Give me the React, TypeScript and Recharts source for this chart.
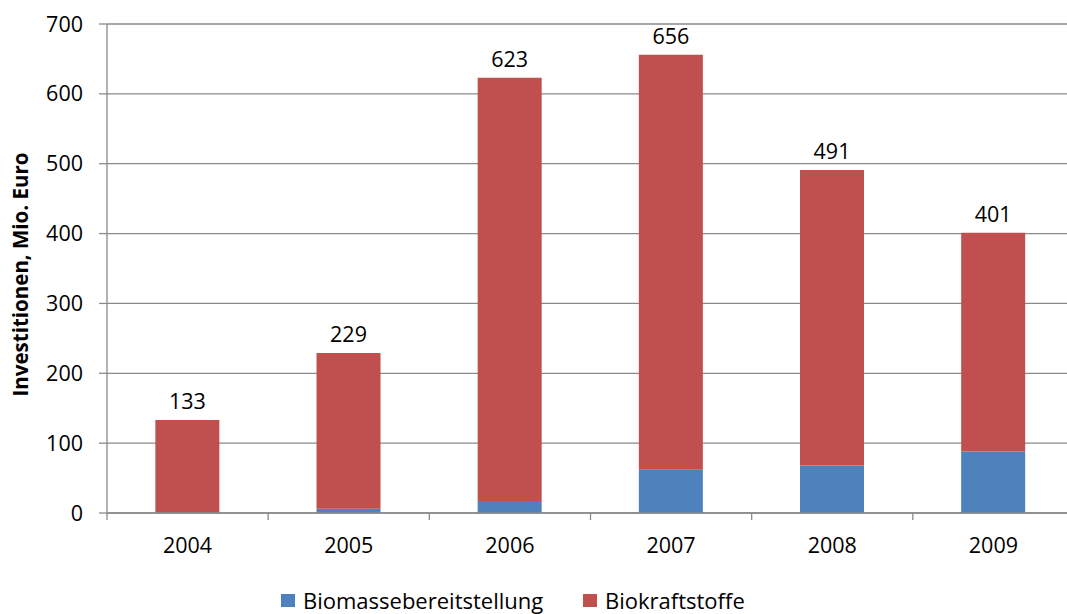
import React from 'react';
import { BarChart, Bar, XAxis, YAxis, CartesianGrid, LabelList, Legend } from 'recharts';

const years = ['2004', '2005', '2006', '2007', '2008', '2009'];
const biomasse = [1, 6, 17, 62, 68, 88];
const biokraftstoffe = [132, 223, 606, 594, 423, 313];
const totals = [133, 229, 623, 656, 491, 401];
const yTicks = [0, 100, 200, 300, 400, 500, 600, 700];

const data = years.map((y, i) => ({
  year: y,
  biomasse: biomasse[i],
  biokraftstoffe: biokraftstoffe[i],
  total: totals[i],
}));

const FONT = '"Open Sans", Lato, sans-serif';
const GRID = '#8a8a8a';
const BLUE = '#4F81BD';
const RED = '#C0504D';

const CategoryTick = (props: any) => {
  const { x, y, payload, index, visibleTicksCount } = props;
  const half = payload && typeof payload.offset === 'number' ? payload.offset : 80.5;
  const axisY = y - 25;
  return (
    <g>
      <line x1={x - half} x2={x - half} y1={axisY} y2={axisY + 7} stroke={GRID} strokeWidth={1.3} />
      {index === visibleTicksCount - 1 && (
        <line x1={x + half} x2={x + half} y1={axisY} y2={axisY + 7} stroke={GRID} strokeWidth={1.3} />
      )}
      <text x={x} y={y} dy="0.71em" textAnchor="middle" fontSize={21.5} fill="#000" fontFamily={FONT}>
        {payload.value}
      </text>
    </g>
  );
};

const YLabel = (props: any) => {
  const vb = props.viewBox || { x: 0, y: 24, width: 107, height: 489 };
  const cx = 20;
  const cy = vb.y + vb.height / 2 + 6;
  return (
    <text
      x={cx}
      y={cy}
      transform={`rotate(-90 ${cx} ${cy})`}
      textAnchor="middle"
      dominantBaseline="central"
      fontSize={20.5}
      fontWeight="bold"
      fill="#000"
      fontFamily={FONT}
    >
      Investitionen, Mio. Euro
    </text>
  );
};

const LegendContent = () => {
  const items = [
    { name: 'Biomassebereitstellung', color: BLUE, left: 0 },
    { name: 'Biokraftstoffe', color: RED, left: 302 },
  ];
  return (
    <div style={{ position: 'relative', height: 24, width: 500, fontFamily: FONT, fontSize: 22, color: '#000' }}>
      {items.map((it) => (
        <div key={it.name} style={{ position: 'absolute', left: it.left, top: 0, display: 'flex', alignItems: 'center', whiteSpace: 'nowrap' }}>
          <span style={{ display: 'inline-block', width: 14, height: 13, background: it.color, marginRight: 8, marginTop: 1 }} />
          <span style={{ lineHeight: '22px' }}>{it.name}</span>
        </div>
      ))}
    </div>
  );
};

export default function App() {
  return (
    <div style={{ position: 'absolute', left: 0, top: 0, width: 1067, height: 614, overflow: 'hidden', background: '#fff', fontFamily: FONT }}>
      <BarChart
        width={1074}
        height={614}
        data={data}
        margin={{ top: 24, right: 0, left: 0, bottom: 51 }}
        barCategoryGap="30%"
      >
        <CartesianGrid vertical={false} stroke={GRID} strokeWidth={1.3} />
        <XAxis
          dataKey="year"
          height={50}
          tickLine={false}
          tickSize={0}
          tickMargin={25}
          axisLine={{ stroke: GRID, strokeWidth: 1.3 }}
          tick={<CategoryTick />}
          interval={0}
        />
        <YAxis
          width={107}
          domain={[0, 700]}
          ticks={yTicks}
          tickSize={8}
          tickMargin={16}
          tickLine={{ stroke: GRID, strokeWidth: 1.3 }}
          axisLine={{ stroke: GRID, strokeWidth: 1.3 }}
          tick={{ fontSize: 21.5, fill: '#000', fontFamily: FONT }}
          label={<YLabel />}
        />
        <Legend
          layout="horizontal"
          verticalAlign="middle"
          align="center"
          content={<LegendContent />}
          wrapperStyle={{ top: 589, left: 281, width: 500 }}
        />
        <Bar dataKey="biomasse" name="Biomassebereitstellung" stackId="a" fill={BLUE} isAnimationActive={false} />
        <Bar dataKey="biokraftstoffe" name="Biokraftstoffe" stackId="a" fill={RED} isAnimationActive={false}>
          <LabelList dataKey="total" position="top" offset={11} fontSize={21.5} fill="#000" fontFamily={FONT} />
        </Bar>
      </BarChart>
    </div>
  );
}
